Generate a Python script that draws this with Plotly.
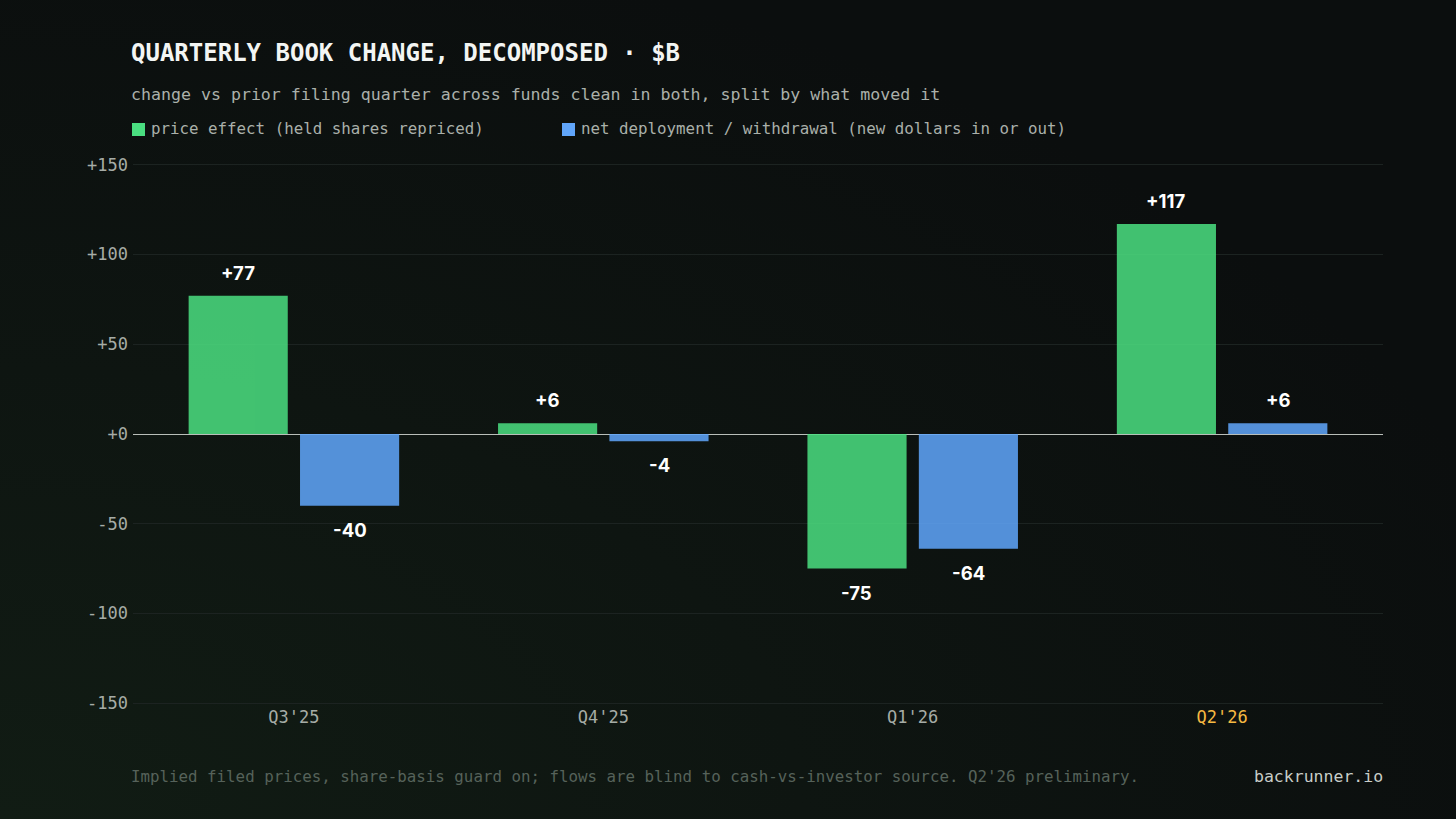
import base64
import plotly.graph_objects as go

# chart data ($B)
quarters = ["Q3'25", "Q4'25", "Q1'26", "Q2'26"]
price_effect = [77, 6, -75, 117]
net_deployment = [-40, -4, -64, 6]
ytick_vals = [-150, -100, -50, 0, 50, 100, 150]
ytick_text = ["-150", "-100", "-50", "+0", "+50", "+100", "+150"]

W, H = 1456, 819
L, R, T, B = 133, 73, 163, 114
PW, PH = W - L - R, H - T - B

def px_x(x):
    # pixel x -> paper x
    return (x - L) / PW

def px_y(y):
    # pixel y -> paper y
    return (H - B - y) / PH

GREEN = "#4ade80"
BLUE = "#60a5fa"
MONO = "DejaVu Sans Mono"

fig = go.Figure()
fig.add_trace(go.Bar(x=quarters, y=price_effect, name="price effect",
                     marker=dict(color=GREEN, line_width=0), opacity=0.86))
fig.add_trace(go.Bar(x=quarters, y=net_deployment, name="net deployment",
                     marker=dict(color=BLUE, line_width=0), opacity=0.86))

# value labels above / below each bar
for vals, shift in [(price_effect, -56), (net_deployment, 56)]:
    for q, v in zip(quarters, vals):
        fig.add_annotation(x=q, y=v, text=f"{v:+d}", showarrow=False,
                           xshift=shift, yshift=23 if v >= 0 else -24,
                           font=dict(family="Inter", size=18.5, color="#ffffff", weight="bold"))

# title, subtitle, footer
fig.add_annotation(xref="paper", yref="paper", x=px_x(129), y=px_y(53), xanchor="left", yanchor="middle",
                   text="<b>QUARTERLY BOOK CHANGE, DECOMPOSED · $B</b>", showarrow=False,
                   font=dict(family=MONO, size=24, color="#f3f5f3"))
fig.add_annotation(xref="paper", yref="paper", x=px_x(129), y=px_y(94), xanchor="left", yanchor="middle",
                   text="change vs prior filing quarter across funds clean in both, split by what moved it",
                   showarrow=False, font=dict(family=MONO, size=16.6, color="#aab0aa"))
fig.add_annotation(xref="paper", yref="paper", x=px_x(129), y=px_y(776), xanchor="left", yanchor="middle",
                   text="Implied filed prices, share-basis guard on; flows are blind to cash-vs-investor source. Q2'26 preliminary.",
                   showarrow=False, font=dict(family=MONO, size=15.8, color="#56625a"))
fig.add_annotation(xref="paper", yref="paper", x=px_x(1385), y=px_y(776), xanchor="right", yanchor="middle",
                   text="backrunner.io", showarrow=False, font=dict(family=MONO, size=16.5, color="#c8cdc8"))

# custom legend
legend_items = [(132, GREEN, "price effect (held shares repriced)"),
                (562, BLUE, "net deployment / withdrawal (new dollars in or out)")]
for x0, col, label in legend_items:
    fig.add_shape(type="rect", xref="paper", yref="paper",
                  x0=px_x(x0), x1=px_x(x0 + 13), y0=px_y(136), y1=px_y(123),
                  fillcolor=col, line_width=0)
    fig.add_annotation(xref="paper", yref="paper", x=px_x(x0 + 17), y=px_y(129), xanchor="left",
                       yanchor="middle", text=label, showarrow=False,
                       font=dict(family=MONO, size=15.8, color="#aab0aa"))

# subtle background glow
svg = ('<svg xmlns="http://www.w3.org/2000/svg" width="1456" height="819">'
       '<defs><radialGradient id="g" cx="0" cy="1" r="1.1">'
       '<stop offset="0" stop-color="#111c14"/><stop offset="1" stop-color="#0b0e0e"/>'
       '</radialGradient></defs><rect width="1456" height="819" fill="url(#g)"/></svg>')
fig.add_layout_image(source="data:image/svg+xml;base64," + base64.b64encode(svg.encode()).decode(),
                     xref="paper", yref="paper", x=px_x(0), y=px_y(0), sizex=W / PW, sizey=H / PH,
                     xanchor="left", yanchor="top", sizing="stretch", layer="below")

xtext = [q if q != "Q2'26" else f"<span style='color:#f5b942'>{q}</span>" for q in quarters]

fig.update_layout(
    width=W, height=H,
    margin=dict(l=L, r=R, t=T, b=B),
    paper_bgcolor="#0b0e0e",
    plot_bgcolor="rgba(0,0,0,0)",
    barmode="group", bargap=0.28, bargroupgap=0.11,
    showlegend=False,
    xaxis=dict(range=[-0.52, 3.52], tickvals=quarters, ticktext=xtext, showgrid=False,
               showline=False, zeroline=False, ticks="",
               tickfont=dict(family=MONO, size=17, color="#a6aca6")),
    yaxis=dict(range=[-151, 151], tickvals=ytick_vals, ticktext=ytick_text,
               gridcolor="#1c2321", gridwidth=1, zeroline=True, zerolinecolor="#b9beb9",
               zerolinewidth=1.2, showline=False, ticks="", ticklabelstandoff=4,
               tickfont=dict(family=MONO, size=17, color="#a6aca6")),
)

fig.write_html("out.html", config={"displayModeBar": False},
               post_script="document.body.style.margin='0';document.body.style.overflow='hidden';")
